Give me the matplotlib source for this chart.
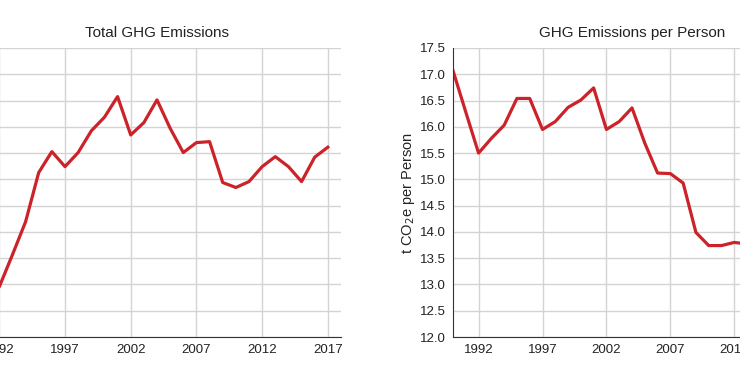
import matplotlib.pyplot as plt

plt.rcParams['font.family'] = ['Liberation Sans', 'DejaVu Sans']

years = list(range(1990, 2018))

# total emissions (Mt CO2e)
total = [615.0, 588.4, 598.2, 622.6, 647.7, 685.2, 701.1, 689.7, 700.4, 716.9,
         727.3, 743.0, 713.8, 723.2, 740.5, 718.9, 700.4, 708.0, 708.7, 677.6,
         673.8, 678.3, 689.7, 697.3, 689.7, 678.3, 696.9, 704.5]

# emissions per person (t CO2e)
per_person = [17.07, 16.28, 15.50, 15.78, 16.03, 16.54, 16.54, 15.95, 16.10, 16.37,
              16.51, 16.74, 15.95, 16.10, 16.36, 15.69, 15.12, 15.11, 14.93, 13.99,
              13.74, 13.74, 13.80, 13.77, 13.62, 13.55, 13.63, 13.70]

xticks = [1992, 1997, 2002, 2007, 2012, 2017]
red = '#cc2229'
grid_col = '#d4d4d4'

W, H = 740, 379
fig = plt.figure(figsize=(W / 100, H / 100), dpi=100)

ax1 = fig.add_axes([-27 / W, (H - 337) / H, 368 / W, 289 / H])
ax2 = fig.add_axes([453 / W, (H - 337) / H, 358 / W, 289 / H])


def style(ax, title):
    ax.set_xlim(1990, 2018)
    ax.set_xticks(xticks)
    ax.grid(True, color=grid_col, lw=1)
    ax.set_axisbelow(True)
    for s in ['top', 'right']:
        ax.spines[s].set_visible(False)
    ax.spines['bottom'].set_color('#333333')
    ax.spines['left'].set_color('#333333')
    ax.tick_params(length=0, labelsize=9.5, colors='#222222', pad=5)
    ax.set_title(title, fontsize=11, color='#222222', pad=8)


ax1.plot(years, total, color=red, lw=2.3)
ax1.set_ylim(560, 780)
ax1.set_yticks(range(560, 781, 20))
style(ax1, 'Total GHG Emissions')
# the y axis of this panel lies outside the visible crop
ax1.tick_params(axis='y', labelleft=False)

ax2.plot(years, per_person, color=red, lw=2.3)
ax2.set_ylim(12.0, 17.5)
ax2.set_yticks([12.0 + 0.5 * i for i in range(12)])
ax2.yaxis.set_major_formatter(plt.FormatStrFormatter('%.1f'))
style(ax2, 'GHG Emissions per Person')
ax2.set_ylabel('t CO$_2$e per Person', fontsize=10.5, color='#222222', labelpad=2)

fig.savefig('out.png', dpi=100)
